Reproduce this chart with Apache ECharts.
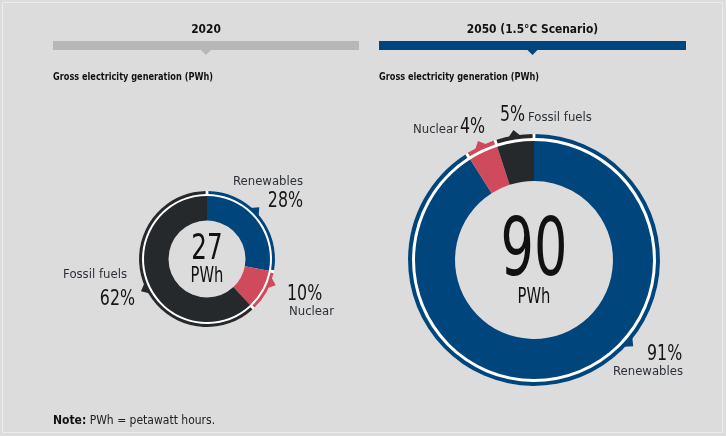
<!DOCTYPE html>
<html><head><meta charset="utf-8">
<script src="https://cdn.jsdelivr.net/npm/echarts@6/dist/echarts.min.js"></script>
<style>html,body{margin:0;padding:0;background:#dcdcdc}#c{width:726px;height:436px}</style>
</head><body><div id="c"></div>
<script>
// ---- data ----
const categories = ['Renewables', 'Nuclear', 'Fossil fuels'];
const share2020 = [28, 10, 62];
const share2050 = [91, 4, 5];
const totals = [27, 90];
const totalUnit = 'PWh';
const panelTitles = ['2020', '2050 (1.5°C Scenario)'];
const panelSubtitle = 'Gross electricity generation (PWh)';
const noteLabel = 'Note:';
const noteText = ' PWh = petawatt hours.';

// ---- style / layout ----
const COLORS = ['#00457c', '#cf4a5a', '#26292c'];
const FONT = "'Liberation Sans Narrow','DejaVu Sans Condensed','Roboto Condensed',sans-serif";
const TXT = '#1e1e1e';

const panels = [
  { shares: share2020, total: totals[0], title: panelTitles[0],
    center: [207, 259], ring: [38.5, 63], arc: [65, 68], pad: 2.4,
    ptrFrac: [0.45, 0.28, 0.48], ptrBase: 12, ptrH: 5.5,
    numSize: 36, numSx: 0.76, unitSize: 21, unitSx: 0.78, numY: 250, unitY: 277,
    barX: 53, barW: 306, barColor: '#b7b7b7',
    labels: [
      { name: [268, 182, 'center'], pct: [303, 201, 'right'] },
      { name: [289, 312, 'left'], pct: [287, 294, 'left'] },
      { name: [127, 275, 'right'], pct: [135, 299, 'right'] }
    ] },
  { shares: share2050, total: totals[1], title: panelTitles[1],
    center: [534, 260], ring: [79, 119], arc: [122, 126], pad: 1.3,
    ptrFrac: [0.40, 0.5, 0.5], ptrBase: 13, ptrH: 5.5,
    numSize: 80, numSx: 0.73, unitSize: 21, unitSx: 0.78, numY: 254, unitY: 298,
    barX: 379, barW: 307, barColor: '#00457c',
    labels: [
      { name: [613, 372, 'left'], pct: [647, 354, 'left'] },
      { name: [458, 130, 'right'], pct: [460, 127, 'left'] },
      { name: [528, 118, 'left'], pct: [500, 115, 'left'] }
    ] }
];

function txt(text, x, y, size, opts) {
  opts = opts || {};
  return {
    type: 'text', x: x, y: y, scaleX: opts.sx || 1, silent: true,
    style: {
      text: text, fontSize: size, fontFamily: FONT,
      fontWeight: opts.weight || 'normal', fill: opts.color || TXT,
      align: opts.align || 'left', textAlign: opts.align || 'left',
      verticalAlign: 'middle', textVerticalAlign: 'middle'
    }
  };
}

const graphics = [
  { type: 'rect', silent: true, shape: { x: 2.5, y: 2.5, width: 720, height: 430 },
    style: { fill: 'none', stroke: '#ececec', lineWidth: 1 } }
];
const series = [];

panels.forEach(function (p, pi) {
  const bc = p.barX + p.barW / 2;
  graphics.push(txt(p.title, bc, 30, 12.5, { weight: 'bold', align: 'center', color: '#111', sx: 0.95 }));
  graphics.push({ type: 'rect', silent: true, shape: { x: p.barX, y: 41, width: p.barW, height: 9 }, style: { fill: p.barColor } });
  graphics.push({ type: 'polygon', silent: true, shape: { points: [[bc - 5, 50], [bc + 5, 50], [bc, 55]] }, style: { fill: p.barColor } });
  graphics.push(txt(panelSubtitle, p.barX, 77, 10, { weight: 'bold', color: '#111', sx: 0.91 }));
  graphics.push(txt(String(p.total), p.center[0], p.numY, p.numSize, { align: 'center', color: '#111', sx: p.numSx }));
  graphics.push(txt(totalUnit, p.center[0], p.unitY, p.unitSize, { align: 'center', color: '#111', sx: p.unitSx }));
  p.labels.forEach(function (l, i) {
    graphics.push(txt(categories[i], l.name[0], l.name[1], 13, { align: l.name[2], color: '#2c3138' }));
    graphics.push(txt(p.shares[i] + '%', l.pct[0], l.pct[1], 22, { align: l.pct[2], color: '#161616', sx: 0.8 }));
  });

  const pieData = p.shares.map(function (v, i) {
    return { name: categories[i], value: v, itemStyle: { color: COLORS[i] } };
  });
  const common = {
    type: 'pie', center: p.center, startAngle: 90, clockwise: true, silent: true,
    animation: false, label: { show: false }, labelLine: { show: false },
    emphasis: { disabled: true }
  };
  series.push(Object.assign({}, common, { name: 'white' + pi, radius: [p.ring[1] - 0.5, p.arc[1]], z: 1,
    data: [{ value: 1, itemStyle: { color: '#ffffff' } }] }));
  series.push(Object.assign({}, common, { name: 'ring' + pi, radius: p.ring, z: 2, data: pieData }));
  series.push(Object.assign({}, common, { name: 'arc' + pi, radius: p.arc, padAngle: p.pad, z: 3,
    data: pieData.map(function (d) { return Object.assign({}, d); }) }));
});

// pointer triangles, positioned from the data's cumulative angles
const ptrData = [];
panels.forEach(function (p, pi) { p.shares.forEach(function (v, i) { ptrData.push([pi, i]); }); });
series.push({
  type: 'custom', coordinateSystem: 'none', silent: true, animation: false, z: 4,
  data: ptrData,
  renderItem: function (params, api) {
    const p = panels[api.value(0)], i = api.value(1);
    const tot = p.shares.reduce(function (a, b) { return a + b; }, 0);
    let before = 0;
    for (let k = 0; k < i; k++) before += p.shares[k];
    const a = (before + p.shares[i] * p.ptrFrac[i]) / tot * 2 * Math.PI;
    const cx = p.center[0], cy = p.center[1];
    const r0 = p.arc[1] - 1.2, r1 = p.arc[1] + p.ptrH;
    const half = (p.ptrBase / 2) / r0;
    const pt = function (ang, r) { return [cx + r * Math.sin(ang), cy - r * Math.cos(ang)]; };
    return { type: 'polygon', shape: { points: [pt(a - half, r0), pt(a, r1), pt(a + half, r0)] },
      style: { fill: COLORS[i] } };
  }
});

graphics.push({
  type: 'text', x: 53, y: 421, silent: true,
  style: {
    text: '{b|' + noteLabel + '}' + noteText,
    fontSize: 12, fontFamily: FONT, fill: '#222',
    verticalAlign: 'middle', textVerticalAlign: 'middle',
    rich: { b: { fontWeight: 'bold', fontSize: 12, fontFamily: FONT, fill: '#111' } }
  }
});

const chart = echarts.init(document.getElementById('c'), null, { renderer: 'canvas' });
chart.setOption({
  backgroundColor: '#dcdcdc',
  animation: false,
  series: series,
  graphic: { elements: graphics }
});
</script></body></html>
